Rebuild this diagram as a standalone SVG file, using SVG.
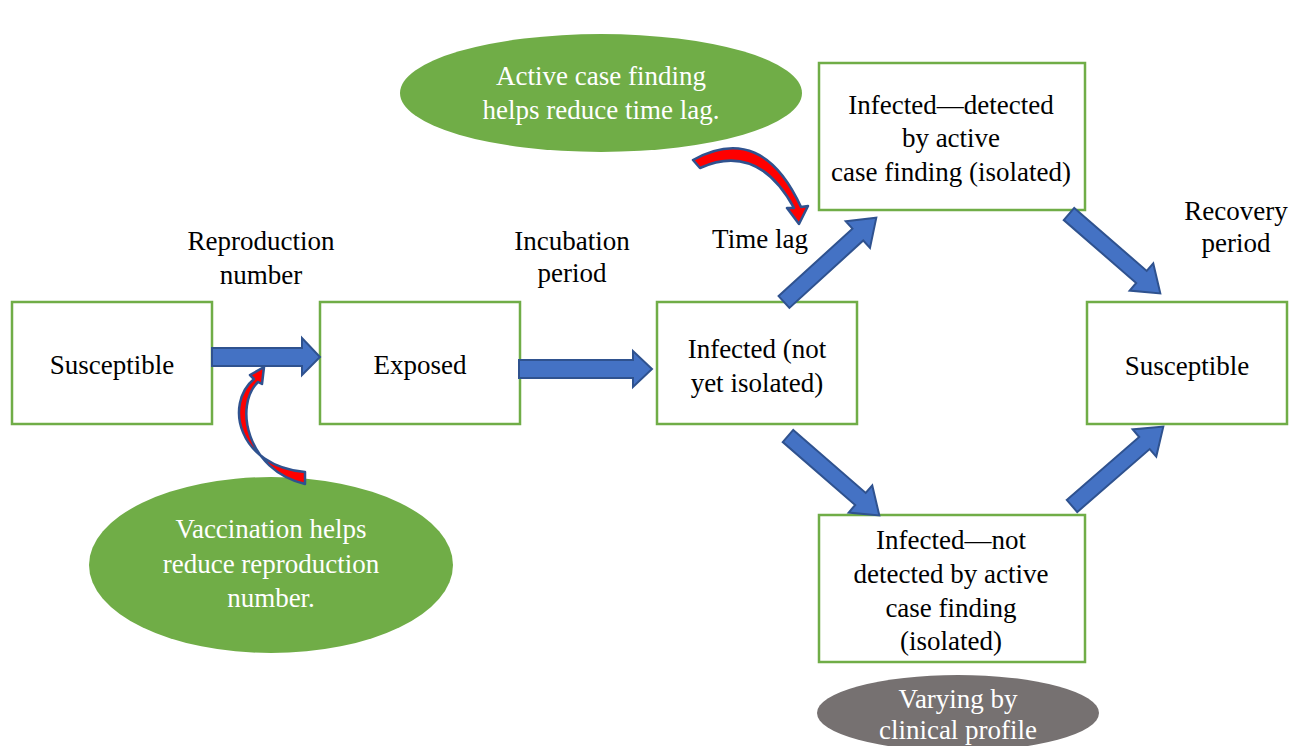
<svg xmlns="http://www.w3.org/2000/svg" width="1300" height="746" viewBox="0 0 1300 746">
<style>
.box{fill:#fff;stroke:#70AD47;stroke-width:2.5}
.t{font-family:"Liberation Serif","Times New Roman",serif;font-size:27px;fill:#000;text-anchor:middle}
.w{fill:#fff}
.blk{fill:#4472C4;stroke:#2F528F;stroke-width:2;stroke-linejoin:miter}
.crv{fill:#FF0000;stroke:#2F528F;stroke-width:2.5;stroke-linejoin:round}
</style>
<rect width="1300" height="746" fill="#fff"/>
<g id="ell-active">
<ellipse cx="601" cy="93" rx="201" ry="59" fill="#70AD47"/>
<text class="t w" x="601" y="85">Active case finding</text>
<text class="t w" x="601" y="119">helps reduce time lag.</text>
</g>
<g id="ell-vacc">
<ellipse cx="271" cy="565" rx="182" ry="88" fill="#70AD47"/>
<text class="t w" x="271" y="538">Vaccination helps</text>
<text class="t w" x="271" y="573">reduce reproduction</text>
<text class="t w" x="271" y="607">number.</text>
</g>
<g id="ell-vary">
<ellipse cx="958" cy="713" rx="141" ry="38" fill="#767171"/>
<text class="t w" x="958" y="708">Varying by</text>
<text class="t w" x="958" y="739">clinical profile</text>
</g>
<g id="n-sus1"><rect class="box" x="12" y="302" width="200" height="122"/><text class="t" x="112" y="374">Susceptible</text></g>
<g id="n-exp"><rect class="box" x="320" y="302" width="200" height="122"/><text class="t" x="420" y="374">Exposed</text></g>
<g id="n-inf"><rect class="box" x="657" y="302" width="200" height="122"/><text class="t" x="757" y="358">Infected (not</text><text class="t" x="757" y="392">yet isolated)</text></g>
<g id="n-det"><rect class="box" x="819" y="63" width="266" height="147"/><text class="t" x="951" y="114">Infected—detected</text><text class="t" x="951" y="147">by active</text><text class="t" x="951" y="181">case finding (isolated)</text></g>
<g id="n-sus2"><rect class="box" x="1087" y="302" width="200" height="122"/><text class="t" x="1187" y="375">Susceptible</text></g>
<g id="n-nodet"><rect class="box" x="819" y="515" width="266" height="147"/><text class="t" x="951" y="549">Infected—not</text><text class="t" x="951" y="583">detected by active</text><text class="t" x="951" y="617">case finding</text><text class="t" x="951" y="650">(isolated)</text></g>
<g id="labels">
<text class="t" x="261" y="250">Reproduction</text><text class="t" x="261" y="284">number</text>
<text class="t" x="572" y="250">Incubation</text><text class="t" x="572" y="282">period</text>
<text class="t" x="760" y="248">Time lag</text>
<text class="t" x="1236" y="220">Recovery</text><text class="t" x="1236" y="252">period</text>
</g>
<g id="connectors">
<polygon class="blk" points="212,348 302,348 302,338 320,357 302,375 302,366 212,366"/>
<polygon class="blk" points="519,360 633,360 633,351 652,369 633,387 633,378 519,378"/>
<g transform="translate(784,302) rotate(-42.4)"><polygon class="blk" points="0,-8 100,-8 100,-18 125,0 100,18 100,8 0,8"/></g>
<g transform="translate(788,436) rotate(41)"><polygon class="blk" points="0,-8 96,-8 96,-18 121,0 96,18 96,8 0,8"/></g>
<g transform="translate(1069,214) rotate(41)"><polygon class="blk" points="0,-8 96,-8 96,-18 121,0 96,18 96,8 0,8"/></g>
<g transform="translate(1072,506) rotate(-41)"><polygon class="blk" points="0,-8 96,-8 96,-18 121,0 96,18 96,8 0,8"/></g>
<path class="crv" d="M693,160 Q762,122 801,207 L808,206 L799,224 L787,208 L794,208 Q758,142 700,168 Z"/>
<path class="crv" d="M305,472 C238,466 224,404 254,379 L250,375 L264,367 L262,384 L258,382 C234,405 246,470 305,484 Z"/>
</g>
</svg>
